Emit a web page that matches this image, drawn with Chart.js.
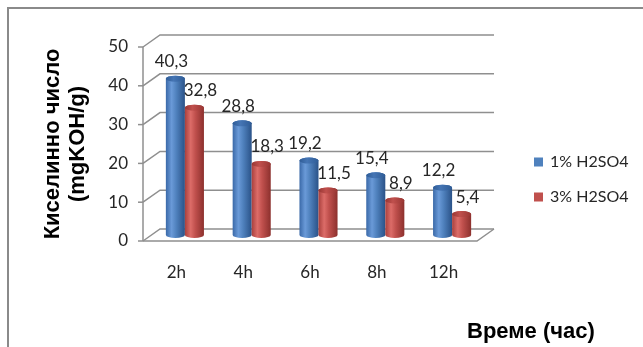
<!DOCTYPE html>
<html>
<head>
<meta charset="utf-8">
<style>
  html, body { margin: 0; padding: 0; background: #ffffff; }
  #wrap { position: relative; width: 643px; height: 347px; }
</style>
</head>
<body>
<div id="wrap"><canvas id="c" width="643" height="347"></canvas></div>
<script src="https://cdn.jsdelivr.net/npm/chart.js@4.4.0/dist/chart.umd.min.js"></script>
<script>
// Acid number over reaction time for two catalyst concentrations
const categories = ['2h', '4h', '6h', '8h', '12h'];
const seriesNames = ['1% H2SO4', '3% H2SO4'];
const acid1pct = [40.3, 28.8, 19.2, 15.4, 12.2];
const acid3pct = [32.8, 18.3, 11.5, 8.9, 5.4];
const yTickValues = [0, 10, 20, 30, 40, 50];
const yTitle = ['Киселинно число', '(mgKOH/g)'];
const xTitle = 'Време (час)';

// cylinder shading per series
const palettes = [
  { base: '#4f81bd', edge: '#3a69a8', light: '#6a9ad8', dark: '#2a5288', top: '#4575b4', rim: '#2f5c96' },
  { base: '#c0504d', edge: '#a9403d', light: '#dc6c68', dark: '#8c302d', top: '#c0504d', rim: '#983633' }
];

const DEPTH_X = 17, DEPTH_Y = 12;       // back-wall offset of the 3D frame
const LINE = '#8f8f8f';
const TEXT = '#262626';
const numFmt = v => String(v).replace('.', ',');

function drawCylinder(ctx, cx, top, base, w, p) {
  const rx = w / 2, ry = 3;
  const g = ctx.createLinearGradient(cx - rx, 0, cx + rx, 0);
  g.addColorStop(0, p.edge);
  g.addColorStop(0.3, p.light);
  g.addColorStop(0.55, p.base);
  g.addColorStop(1, p.dark);
  ctx.beginPath();
  ctx.moveTo(cx - rx, top);
  ctx.lineTo(cx - rx, base);
  ctx.ellipse(cx, base, rx, ry, 0, Math.PI, 0, true);
  ctx.lineTo(cx + rx, top);
  ctx.ellipse(cx, top, rx, ry, 0, 0, Math.PI, true);
  ctx.closePath();
  ctx.fillStyle = g;
  ctx.fill();
  // lid
  const tg = ctx.createLinearGradient(cx - rx, 0, cx + rx, 0);
  tg.addColorStop(0, p.rim);
  tg.addColorStop(0.4, p.top);
  tg.addColorStop(1, p.rim);
  ctx.beginPath();
  ctx.ellipse(cx, top, rx, ry, 0, 0, Math.PI * 2);
  ctx.fillStyle = tg;
  ctx.fill();
}

const frame3d = {
  id: 'frame3d',
  beforeDatasetsDraw(chart) {
    const { ctx, chartArea: a, scales: { y } } = chart;
    ctx.save();
    ctx.strokeStyle = LINE;
    ctx.lineWidth = 1.5;
    yTickValues.forEach(v => {
      const py = y.getPixelForValue(v);
      ctx.beginPath();
      ctx.moveTo(a.left, py);
      ctx.lineTo(a.left + DEPTH_X, py - DEPTH_Y);
      ctx.lineTo(a.right + DEPTH_X, py - DEPTH_Y);
      ctx.stroke();
      ctx.beginPath();
      ctx.moveTo(a.left - 5, py);
      ctx.lineTo(a.left, py);
      ctx.stroke();
    });
    const fy = y.getPixelForValue(0);
    ctx.beginPath();
    ctx.moveTo(a.left, fy);
    ctx.lineTo(a.right, fy);
    ctx.lineTo(a.right + DEPTH_X, fy - DEPTH_Y);
    ctx.stroke();
    ctx.beginPath();
    ctx.moveTo(a.left, y.getPixelForValue(y.max));
    ctx.lineTo(a.left, fy);
    ctx.stroke();
    ctx.restore();
  },
  afterDatasetsDraw(chart) {
    const { ctx } = chart;
    const sx = DEPTH_X / 2, sy = -DEPTH_Y / 2;
    const labelShift = [-4, 6];
    ctx.save();
    const metas = [chart.getDatasetMeta(0), chart.getDatasetMeta(1)];
    categories.forEach((c, i) => {
      metas.forEach((m, d) => {
        const el = m.data[i];
        const { x, y, base, width } = el.getProps(['x', 'y', 'base', 'width'], true);
        drawCylinder(ctx, x + sx, y + sy, base + sy, width, palettes[d]);
      });
    });
    ctx.font = '17px Lato';
    ctx.fillStyle = TEXT;
    ctx.textAlign = 'center';
    ctx.textBaseline = 'middle';
    metas.forEach((m, d) => {
      const values = chart.data.datasets[d].data;
      m.data.forEach((el, i) => {
        const { x, y } = el.getProps(['x', 'y'], true);
        ctx.fillText(numFmt(values[i]), x + sx + labelShift[d], y + sy - 17);
      });
    });
    ctx.restore();
  },
  afterDraw(chart) {
    const { ctx } = chart;
    ctx.save();
    // legend
    ctx.font = '16px Lato';
    ctx.textBaseline = 'middle';
    ctx.textAlign = 'left';
    seriesNames.forEach((name, d) => {
      const cy = 162 + d * 35;
      ctx.fillStyle = palettes[d].base;
      ctx.fillRect(534, cy - 4.5, 9, 9);
      ctx.fillStyle = TEXT;
      ctx.fillText(name, 550, cy);
    });
    // horizontal axis title
    ctx.font = 'bold 22px "Liberation Sans"';
    ctx.fillStyle = '#000000';
    ctx.textBaseline = 'alphabetic';
    ctx.fillText(xTitle, 467, 338);
    // outer frame
    ctx.strokeStyle = '#8a8a8a';
    ctx.lineWidth = 2;
    ctx.strokeRect(8, 8, 700, 400);
    ctx.restore();
  }
};

new Chart(document.getElementById('c'), {
  type: 'bar',
  data: {
    labels: categories,
    datasets: [
      { label: seriesNames[0], data: acid1pct, backgroundColor: 'rgba(0,0,0,0)', borderWidth: 0 },
      { label: seriesNames[1], data: acid3pct, backgroundColor: 'rgba(0,0,0,0)', borderWidth: 0 }
    ]
  },
  options: {
    responsive: false,
    animation: false,
    devicePixelRatio: 1,
    categoryPercentage: 0.57,
    barPercentage: 1.0,
    layout: { padding: { left: 10, top: 47, right: 166, bottom: 0 } },
    plugins: { legend: { display: false }, tooltip: { enabled: false } },
    scales: {
      x: {
        grid: { display: false, drawTicks: false },
        border: { display: false },
        ticks: { padding: 21, color: TEXT, font: { family: 'Lato', size: 17 } },
        afterFit(scale) { scale.height = 106; }
      },
      y: {
        min: 0,
        max: 50,
        grid: { display: false, drawTicks: false },
        border: { display: false },
        ticks: { stepSize: 10, padding: 15, color: TEXT, font: { family: 'Lato', size: 17 } },
        title: {
          display: true,
          text: yTitle,
          color: '#000000',
          font: { family: 'Liberation Sans', size: 22, weight: 'bold', lineHeight: 1.15 },
          padding: { top: 30, bottom: 0 }
        },
        afterFit(scale) { scale.width = 133; }
      }
    }
  },
  plugins: [frame3d]
});
</script>
</body>
</html>
